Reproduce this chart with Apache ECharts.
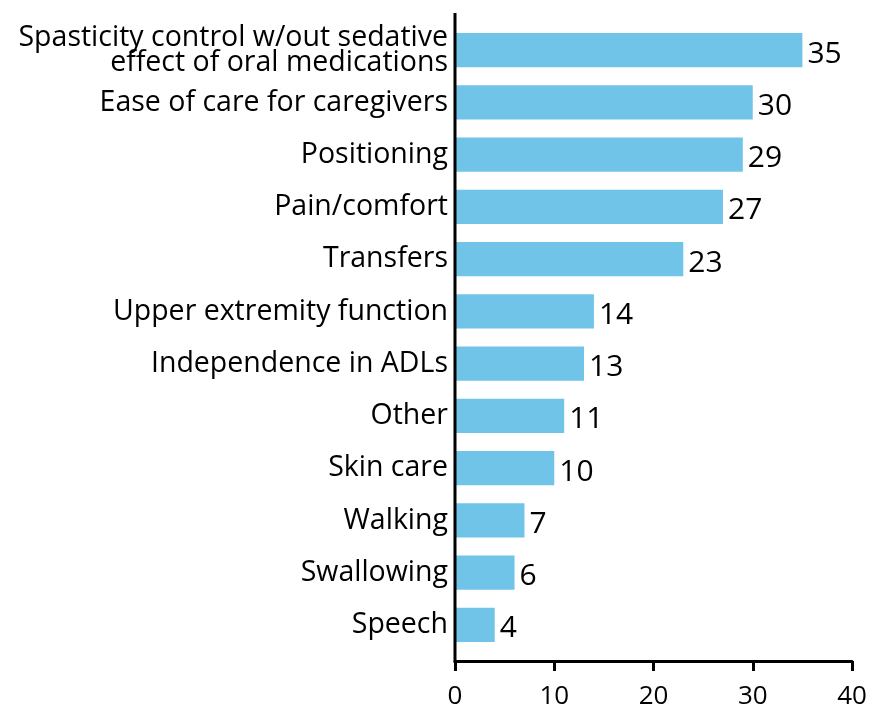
<!DOCTYPE html>
<html>
<head>
<meta charset="utf-8">
<script src="https://cdn.jsdelivr.net/npm/echarts@6/dist/echarts.min.js"></script>
<style>
  html, body { margin: 0; padding: 0; background: #fff; }
  #chart { width: 872px; height: 706px; }
</style>
</head>
<body>
<div id="chart"></div>
<script>
// Goals of treatment (number of responses), top to bottom
const categories = [
  'Spasticity control w/out sedative\neffect of oral medications',
  'Ease of care for caregivers',
  'Positioning',
  'Pain/comfort',
  'Transfers',
  'Upper extremity function',
  'Independence in ADLs',
  'Other',
  'Skin care',
  'Walking',
  'Swallowing',
  'Speech'
];
const counts = [35, 30, 29, 27, 23, 14, 13, 11, 10, 7, 6, 4];
const xTicks = [0, 10, 20, 30, 40];

const FONT = 'Open Sans';
const chart = echarts.init(document.getElementById('chart'), null, { renderer: 'canvas' });

chart.setOption({
  animation: false,
  backgroundColor: '#ffffff',
  grid: {
    left: 455, right: 20, top: 24, bottom: 55,
    containLabel: false, outerBoundsMode: 'none'
  },
  xAxis: {
    type: 'value',
    min: xTicks[0],
    max: xTicks[xTicks.length - 1],
    interval: 10,
    offset: 10,
    axisLine: { show: true, lineStyle: { color: '#000', width: 3 } },
    axisTick: { show: true, length: 10, lineStyle: { color: '#000', width: 3 } },
    axisLabel: { color: '#000', fontFamily: FONT, fontSize: 26, margin: 23 },
    splitLine: { show: false }
  },
  yAxis: {
    type: 'category',
    inverse: true,
    data: categories,
    axisLine: { show: false },
    axisTick: { show: false },
    axisLabel: {
      color: '#000', fontFamily: FONT, fontSize: 28.5, margin: 7,
      lineHeight: 25, align: 'right'
    }
  },
  series: [{
    type: 'bar',
    data: counts,
    barWidth: '66%',
    itemStyle: { color: '#70C4E8' },
    label: {
      show: true, position: 'right', distance: 5, offset: [0, 4],
      color: '#000', fontFamily: FONT, fontSize: 30
    }
  }]
});

// Vertical baseline at x = 0, running from just above the first bar down to the x-axis line
const x0 = chart.convertToPixel({ xAxisIndex: 0 }, 0);
const gridRect = chart.getModel().getComponent('grid').coordinateSystem.getRect();
chart.setOption({
  graphic: [{
    type: 'line',
    shape: { x1: x0, y1: gridRect.y - 11, x2: x0, y2: gridRect.y + gridRect.height + 11.5 },
    style: { stroke: '#000', lineWidth: 3 },
    z: 10
  }]
});
</script>
</body>
</html>
